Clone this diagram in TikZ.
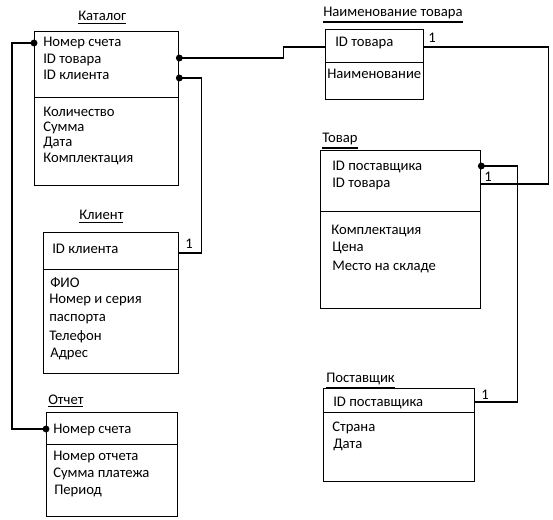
\documentclass[tikz,border=0pt]{standalone}
\usepackage{fontspec}
\setmainfont{Carlito}
\usepackage{tikz}

\newcommand\entname[1]{\vtop{\hbox{#1}\kern1.6pt\hrule height 0.9pt}}

\tikzset{
    ent/.style 2 args = {draw, line width = 1pt, rectangle, anchor = north west,
        inner sep = 0, minimum width = #1*0.75pt, minimum height = #2*0.75pt},
    fld/.style = {anchor = base west, inner sep = 0},
    ttl/.style = {anchor = base west, inner sep = 0},
    card/.style = {anchor = base west, inner sep = 0},
    lnk/.style = {line width = 1pt},
}

\begin{document}
\begin{tikzpicture}[x = 0.75pt, y = -0.75pt, font = \fontsize{11}{13}\selectfont]
    \useasboundingbox (0, 0) rectangle (553, 520);

    %% Каталог
    \node[ttl] (kat-t) at (78, 21) {\entname{Каталог}};
    \node[ent = {144}{66}] (kat-key) at (34, 31) {};
    \node[ent = {144}{88}] (kat-attr) at (34, 97) {};
    \path (43, 47) node[fld] (kat-f1) {Номер счета};
    \path (43, 64) node[fld] (kat-f2) {ID товара};
    \path (43, 80) node[fld] (kat-f3) {ID клиента};
    \path (43, 117) node[fld] (kat-f4) {Количество};
    \path (43, 132) node[fld] (kat-f5) {Сумма};
    \path (43, 147) node[fld] (kat-f6) {Дата};
    \path (43, 163) node[fld] (kat-f7) {Комплектация};

    %% Наименование товара
    \node[ttl] (nt-t) at (323, 17) {\entname{Наименование товара}};
    \node[ent = {98}{33}] (nt-key) at (325, 29) {};
    \node[ent = {98}{37}] (nt-attr) at (325, 62) {};
    \path (335, 47) node[fld] (nt-f1) {ID товара};
    \path (327, 79) node[fld] (nt-f2) {Наименование};

    %% Товар
    \node[ttl] (tov-t) at (322, 143) {\entname{Товар}};
    \node[ent = {160}{61}] (tov-key) at (320, 150) {};
    \node[ent = {160}{97}] (tov-attr) at (320, 211) {};
    \path (332, 171) node[fld] (tov-f1) {ID поставщика};
    \path (332, 188) node[fld] (tov-f2) {ID товара};
    \path (331, 235) node[fld] (tov-f3) {Комплектация};
    \path (332, 252) node[fld] (tov-f4) {Цена};
    \path (332, 271) node[fld] (tov-f5) {Место на складе};

    %% Клиент
    \node[ttl] (kl-t) at (79, 220) {\entname{Клиент}};
    \node[ent = {135}{37}] (kl-key) at (43, 232) {};
    \node[ent = {135}{104}] (kl-attr) at (43, 269) {};
    \path (52, 254) node[fld] (kl-f1) {ID клиента};
    \path (50, 287) node[fld] (kl-f2) {ФИО};
    \path (49, 303) node[fld] (kl-f3) {Номер и серия};
    \path (49, 321) node[fld] (kl-f4) {паспорта};
    \path (49, 340) node[fld] (kl-f5) {Телефон};
    \path (50, 357) node[fld] (kl-f6) {Адрес};

    %% Отчет
    \node[ttl] (otc-t) at (48, 404) {\entname{Отчет}};
    \node[ent = {131}{32}] (otc-key) at (46, 412) {};
    \node[ent = {131}{72}] (otc-attr) at (46, 444) {};
    \path (53, 433) node[fld] (otc-f1) {Номер счета};
    \path (53, 460) node[fld] (otc-f2) {Номер отчета};
    \path (53, 477) node[fld] (otc-f3) {Сумма платежа};
    \path (54, 494) node[fld] (otc-f4) {Период};

    %% Поставщик
    \node[ttl] (pos-t) at (326, 382) {\entname{Поставщик}};
    \node[ent = {151}{24}] (pos-key) at (323, 388) {};
    \node[ent = {151}{69}] (pos-attr) at (323, 412) {};
    \path (333, 406) node[fld] (pos-f1) {ID поставщика};
    \path (332, 431) node[fld] (pos-f2) {Страна};
    \path (333, 448) node[fld] (pos-f3) {Дата};

    %% connection points
    \coordinate (kat-p1) at (kat-key.west |- 0, 43);
    \coordinate (kat-p2) at (kat-key.east |- 0, 58);
    \coordinate (kat-p3) at (kat-key.east |- 0, 78);
    \coordinate (nt-p1) at (nt-key.west |- 0, 47);
    \coordinate (nt-p2) at (nt-key.east |- 0, 47);
    \coordinate (tov-p1) at (tov-key.east |- 0, 166);
    \coordinate (tov-p2) at (tov-key.east |- 0, 184);
    \coordinate (kl-p1) at (kl-key.east |- 0, 253);
    \coordinate (otc-p1) at (otc-key.west |- 0, 429);
    \coordinate (pos-p1) at (pos-key.east |- 0, 402);

    %% links
    \draw[lnk] (kat-p1) -- ++(-22, 0) |- (otc-p1);
    \draw[lnk] (kat-p2) -- ++(104, 0) |- (nt-p1);
    \draw[lnk] (kat-p3) -- ++(22, 0) |- (kl-p1);
    \draw[lnk] (nt-p2) -- ++(124, 0) |- (tov-p2);
    \draw[lnk] (tov-p1) -- ++(36, 0) |- (pos-p1);

    %% many ends
    \fill (kat-p1) circle (2.6pt);
    \fill (kat-p2) circle (2.6pt);
    \fill (kat-p3) circle (2.6pt);
    \fill (tov-p1) circle (2.6pt);
    \fill (otc-p1) circle (2.6pt);

    %% one ends
    \node[card] (nt-one) at (428, 43) {1};
    \node[card] (tov-one) at (484, 182) {1};
    \node[card] (kl-one) at (185, 248) {1};
    \node[card] (pos-one) at (481, 399) {1};
\end{tikzpicture}
\end{document}
